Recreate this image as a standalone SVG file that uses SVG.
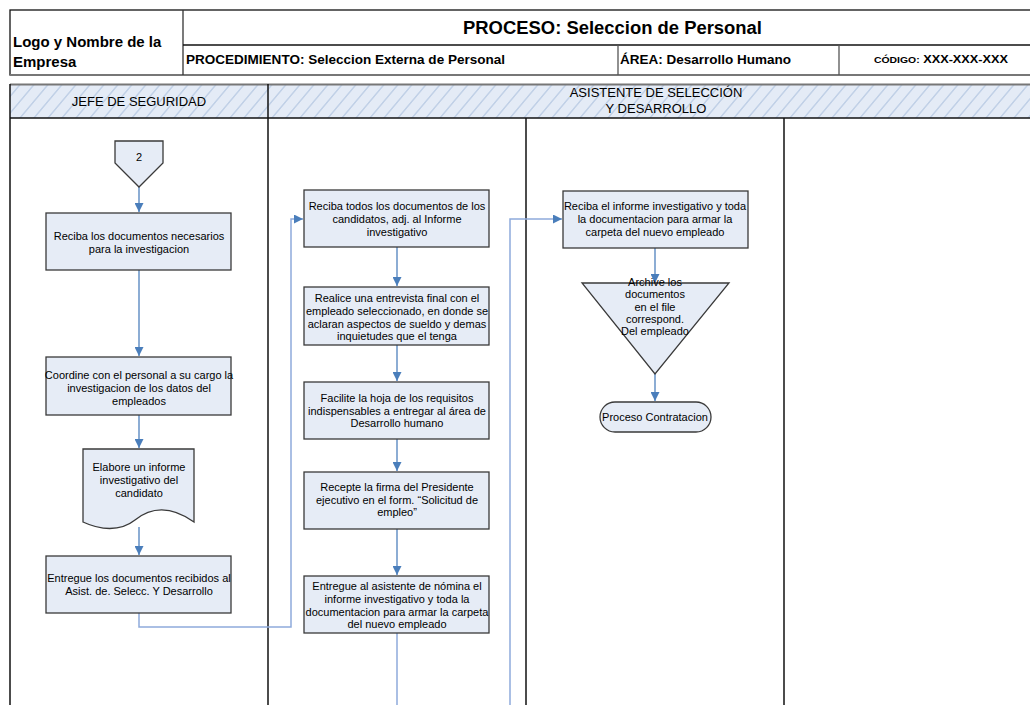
<svg xmlns="http://www.w3.org/2000/svg" width="1030" height="705" viewBox="0 0 1030 705">
<defs>
<pattern id="hatch" patternUnits="userSpaceOnUse" width="14" height="14" patternTransform="skewX(-40)">
<rect width="14" height="14" fill="#e4ebf6"/>
<line x1="7" y1="0" x2="7" y2="14" stroke="#b9cbe4" stroke-width="1.6"/>
</pattern>
<marker id="arr" viewBox="0 0 10 10" refX="10" refY="5" markerWidth="9" markerHeight="9" markerUnits="userSpaceOnUse" orient="auto">
<path d="M0,0 L10,5 L0,10 z" fill="#4a7ebb"/>
</marker>
</defs>
<style>
.hdr{font-family:"Liberation Sans",Arial,sans-serif;font-weight:bold;fill:#000}
.lane{font-family:"Liberation Sans",Arial,sans-serif;font-size:13px;fill:#000;text-anchor:middle}
.t{font-family:"Liberation Sans",Arial,sans-serif;font-size:11px;fill:#000;text-anchor:middle}
.box{fill:#e6ecf6;stroke:#3a3a3a;stroke-width:1.3}
.ln{fill:none;stroke:#111;stroke-width:1.5}
.c{fill:none;stroke:#4f81bd;stroke-width:1.3}
.c2{fill:none;stroke:#8eaadb;stroke-width:1.5}
</style>
<rect width="1030" height="705" fill="#fff"/>

<g id="header">
<rect x="10" y="10" width="1030" height="65" fill="#fff" stroke="#111" stroke-width="1.3"/>
<line x1="10" y1="75" x2="1030" y2="75" stroke="#777" stroke-width="2"/>
<line x1="183" y1="10" x2="183" y2="75" stroke="#333" stroke-width="1.3"/>
<line x1="183" y1="45" x2="1030" y2="45" stroke="#111" stroke-width="1.3"/>
<line x1="618" y1="45" x2="618" y2="75" stroke="#555" stroke-width="1.3"/>
<line x1="839" y1="45" x2="839" y2="75" stroke="#555" stroke-width="1.3"/>
<text class="hdr" x="13" y="47" font-size="15">Logo y Nombre de la</text>
<text class="hdr" x="13" y="67" font-size="15">Empresa</text>
<text class="hdr" x="463" y="34" font-size="18" textLength="299" lengthAdjust="spacingAndGlyphs">PROCESO: Seleccion de Personal</text>
<text class="hdr" x="186" y="64" font-size="13" textLength="319" lengthAdjust="spacingAndGlyphs">PROCEDIMIENTO: Seleccion Externa de Personal</text>
<text class="hdr" x="620" y="64" font-size="13" textLength="171" lengthAdjust="spacingAndGlyphs">ÁREA: Desarrollo Humano</text>
<text class="hdr" x="874" y="63" font-size="11" textLength="134" lengthAdjust="spacingAndGlyphs"><tspan font-size="9">CÓDIGO:</tspan> XXX-XXX-XXX</text>
</g>

<g id="lanes">
<rect x="10" y="84" width="1030" height="34" fill="url(#hatch)"/>
<line x1="10" y1="84.5" x2="1030" y2="84.5" stroke="#777" stroke-width="2"/>
<line x1="10" y1="118" x2="1030" y2="118" class="ln"/>
<line x1="10" y1="84" x2="10" y2="705" class="ln"/>
<line x1="268" y1="84" x2="268" y2="705" class="ln"/>
<line x1="526" y1="118" x2="526" y2="705" class="ln"/>
<line x1="784" y1="118" x2="784" y2="705" class="ln"/>
<text class="lane" x="139" y="106">JEFE DE SEGURIDAD</text>
<text class="lane" x="656" y="97">ASISTENTE DE SELECCIÓN</text>
<text class="lane" x="656" y="113">Y DESARROLLO</text>
</g>

<g id="connectors">
<line x1="139" y1="187" x2="139" y2="212" class="c" marker-end="url(#arr)"/>
<line x1="139" y1="270" x2="139" y2="356" class="c" marker-end="url(#arr)"/>
<line x1="139" y1="415" x2="139" y2="448" class="c" marker-end="url(#arr)"/>
<line x1="139" y1="527" x2="139" y2="555" class="c" marker-end="url(#arr)"/>
<polyline points="139,613 139,627 291,627 291,219 303,219" class="c2" marker-end="url(#arr)"/>
<line x1="397" y1="247" x2="397" y2="286" class="c" marker-end="url(#arr)"/>
<line x1="397" y1="345" x2="397" y2="381" class="c" marker-end="url(#arr)"/>
<line x1="397" y1="439" x2="397" y2="471" class="c" marker-end="url(#arr)"/>
<line x1="397" y1="529" x2="397" y2="575" class="c" marker-end="url(#arr)"/>
<line x1="397" y1="633" x2="397" y2="705" class="c2"/>
<polyline points="510,705 510,219 562,219" class="c2" marker-end="url(#arr)"/>
<line x1="655" y1="248" x2="655" y2="283" class="c" marker-end="url(#arr)"/>
<line x1="655" y1="374" x2="655" y2="401" class="c" marker-end="url(#arr)"/>
</g>

<g id="n_offpage">
<polygon points="115,141 163,141 163,163 139,187 115,163" class="box"/>
<text class="t" x="139" y="161">2</text>
</g>
<g id="n1">
<rect x="46" y="213" width="185" height="57" class="box"/>
<text class="t" x="139" y="240">Reciba los documentos necesarios</text>
<text class="t" x="139" y="253">para la investigacion</text>
</g>
<g id="n2">
<rect x="46" y="357" width="185" height="58" class="box"/>
<text class="t" x="139" y="379">Coordine con el personal a su cargo la</text>
<text class="t" x="139" y="392">investigacion de los datos del</text>
<text class="t" x="139" y="405">empleados</text>
</g>
<g id="n3">
<path d="M83,449 L194,449 L194,522 C170,505 150,508 135,520 C120,532 100,530 83,522 Z" class="box"/>
<text class="t" x="139" y="471">Elabore un informe</text>
<text class="t" x="139" y="484">investigativo del</text>
<text class="t" x="139" y="497">candidato</text>
</g>
<g id="n4">
<rect x="46" y="556" width="185" height="57" class="box"/>
<text class="t" x="139" y="582">Entregue los documentos recibidos al</text>
<text class="t" x="139" y="595">Asist. de. Selecc. Y Desarrollo</text>
</g>
<g id="n5">
<rect x="304" y="190" width="185" height="57" class="box"/>
<text class="t" x="397" y="210">Reciba todos los documentos de los</text>
<text class="t" x="397" y="223">candidatos, adj. al Informe</text>
<text class="t" x="397" y="236">investigativo</text>
</g>
<g id="n6">
<rect x="304" y="287" width="185" height="58" class="box"/>
<text class="t" x="397" y="302">Realice una entrevista final con el</text>
<text class="t" x="397" y="315">empleado seleccionado, en donde se</text>
<text class="t" x="397" y="328">aclaran aspectos de sueldo y demas</text>
<text class="t" x="397" y="340">inquietudes que el tenga</text>
</g>
<g id="n7">
<rect x="304" y="382" width="185" height="57" class="box"/>
<text class="t" x="397" y="402">Facilite la hoja de los requisitos</text>
<text class="t" x="397" y="415">indispensables a entregar al área de</text>
<text class="t" x="397" y="427">Desarrollo humano</text>
</g>
<g id="n8">
<rect x="304" y="472" width="185" height="57" class="box"/>
<text class="t" x="397" y="491">Recepte la firma del Presidente</text>
<text class="t" x="397" y="504">ejecutivo en el form. “Solicitud de</text>
<text class="t" x="397" y="516">empleo”</text>
</g>
<g id="n9">
<rect x="304" y="576" width="185" height="57" class="box"/>
<text class="t" x="397" y="590">Entregue al asistente de nómina el</text>
<text class="t" x="397" y="603">informe investigativo y toda la</text>
<text class="t" x="397" y="616">documentacion para armar la carpeta</text>
<text class="t" x="397" y="628">del nuevo empleado</text>
</g>
<g id="n10">
<rect x="563" y="191" width="185" height="57" class="box"/>
<text class="t" x="655" y="210">Reciba el informe investigativo y toda</text>
<text class="t" x="655" y="223">la documentacion para armar la</text>
<text class="t" x="655" y="236">carpeta del nuevo empleado</text>
</g>
<g id="n11">
<polygon points="582,283 729,283 655,374" class="box"/>
<text class="t" x="655" y="286">Archive los</text>
<text class="t" x="655" y="298">documentos</text>
<text class="t" x="655" y="311">en el file</text>
<text class="t" x="655" y="323">correspond.</text>
<text class="t" x="655" y="335">Del empleado</text>
</g>
<g id="n12">
<rect x="600" y="402" width="111" height="30" rx="15" ry="15" class="box"/>
<text class="t" x="655" y="421">Proceso Contratacion</text>
</g>
</svg>
